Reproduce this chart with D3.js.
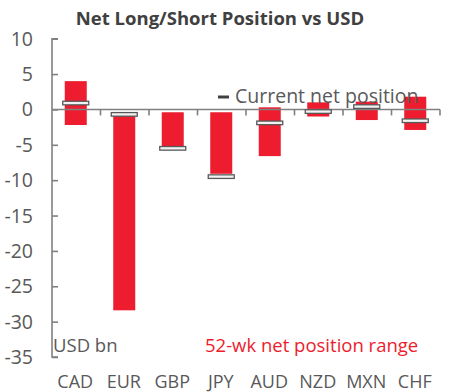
<html>
<head>
<script src="https://d3js.org/d3.v7.min.js"></script>
<style>
  body { margin: 0; background: #fff; }
  text { font-family: "Open Sans", sans-serif; }
</style>
</head>
<body>
<script>
var categories = ["CAD", "EUR", "GBP", "JPY", "AUD", "NZD", "MXN", "CHF"];
var rangeHigh = [4.0, -0.5, -0.4, -0.4, 0.3, 1.0, 1.1, 1.8];
var rangeLow = [-2.2, -28.4, -5.6, -9.1, -6.6, -1.0, -1.5, -2.9];
var current = [0.9, -0.7, -5.5, -9.5, -1.9, -0.3, 0.4, -1.6];
var yTicks = [10, 5, 0, -5, -10, -15, -20, -25, -30, -35];

var width = 450, height = 392;
var margin = {top: 38.7, right: 10, bottom: 35, left: 52};
var red = "#ed1c2e", grey = "#595959", axisGrey = "#808080";

var svg = d3.select("body").append("svg")
  .attr("width", width)
  .attr("height", height);

var x = d3.scaleBand()
  .domain(categories)
  .range([margin.left, 440]);

var y = d3.scaleLinear()
  .domain([-35, 10])
  .range([357, 38.7]);

svg.append("text")
  .attr("x", 220)
  .attr("y", 25)
  .attr("text-anchor", "middle")
  .style("font-size", "18.5px")
  .style("font-weight", "bold")
  .attr("fill", "#404040")
  .text("Net Long/Short Position vs USD");

// range bars
var bw = 22;
svg.append("g").selectAll("rect")
  .data(categories)
  .enter().append("rect")
  .attr("x", function(d){ return x(d) + x.bandwidth()/2 - bw/2 - 0.5; })
  .attr("y", function(d, i){ return y(rangeHigh[i]); })
  .attr("width", bw)
  .attr("height", function(d, i){ return y(rangeLow[i]) - y(rangeHigh[i]); })
  .attr("fill", red);

// y axis
var yAxis = d3.axisRight(y).tickValues(yTicks).tickSize(6).tickFormat("");
var gy = svg.append("g")
  .attr("transform", "translate(" + margin.left + ",0)")
  .call(yAxis);
gy.select(".domain").attr("stroke", axisGrey).attr("stroke-width", 1.6)
  .attr("d", "M6," + y(10) + "H0V" + y(-35) + "H6");
gy.selectAll(".tick line").attr("stroke", axisGrey).attr("stroke-width", 1.6);

svg.append("g").selectAll("text")
  .data(yTicks)
  .enter().append("text")
  .attr("x", 33)
  .attr("y", function(d){ return y(d) + 7; })
  .attr("text-anchor", "end")
  .style("font-size", "19.5px")
  .attr("fill", grey)
  .text(function(d){ return d; });

// x axis at zero
var gx = svg.append("g");
gx.append("line")
  .attr("x1", margin.left).attr("x2", 440)
  .attr("y1", y(0)).attr("y2", y(0))
  .attr("stroke", axisGrey).attr("stroke-width", 1.6);
gx.selectAll(".xt")
  .data(categories.map(function(d){ return x(d) + x.bandwidth(); }))
  .enter().append("line")
  .attr("class", "xt")
  .attr("x1", function(d){ return d; }).attr("x2", function(d){ return d; })
  .attr("y1", y(0)).attr("y2", y(0) + 6)
  .attr("stroke", axisGrey).attr("stroke-width", 1.6);

// current position markers
var mw = 26;
svg.append("g").selectAll("rect")
  .data(categories)
  .enter().append("rect")
  .attr("x", function(d){ return x(d) + x.bandwidth()/2 - mw/2 - 0.5; })
  .attr("y", function(d, i){ return y(current[i]) - 1.8; })
  .attr("width", mw)
  .attr("height", 3.6)
  .attr("fill", "#f2f2f2")
  .attr("stroke", "#595959")
  .attr("stroke-width", 1.3);

// category labels
svg.append("g").selectAll("text")
  .data(categories)
  .enter().append("text")
  .attr("x", function(d){ return x(d) + x.bandwidth()/2 - 1; })
  .attr("y", 388)
  .attr("text-anchor", "middle")
  .style("font-size", "18px")
  .attr("fill", grey)
  .text(function(d){ return d; });

// legend
svg.append("line")
  .attr("x1", 218).attr("x2", 229)
  .attr("y1", 97).attr("y2", 97)
  .attr("stroke", "#404040").attr("stroke-width", 3);
svg.append("text")
  .attr("x", 235)
  .attr("y", 102.5)
  .style("font-size", "19.5px")
  .attr("fill", grey)
  .text("Current net position");

svg.append("text")
  .attr("x", 53)
  .attr("y", 352)
  .style("font-size", "18.5px")
  .attr("fill", grey)
  .text("USD bn");

svg.append("text")
  .attr("x", 205)
  .attr("y", 352)
  .style("font-size", "18.5px")
  .attr("fill", red)
  .text("52-wk net position range");
</script>
</body>
</html>
